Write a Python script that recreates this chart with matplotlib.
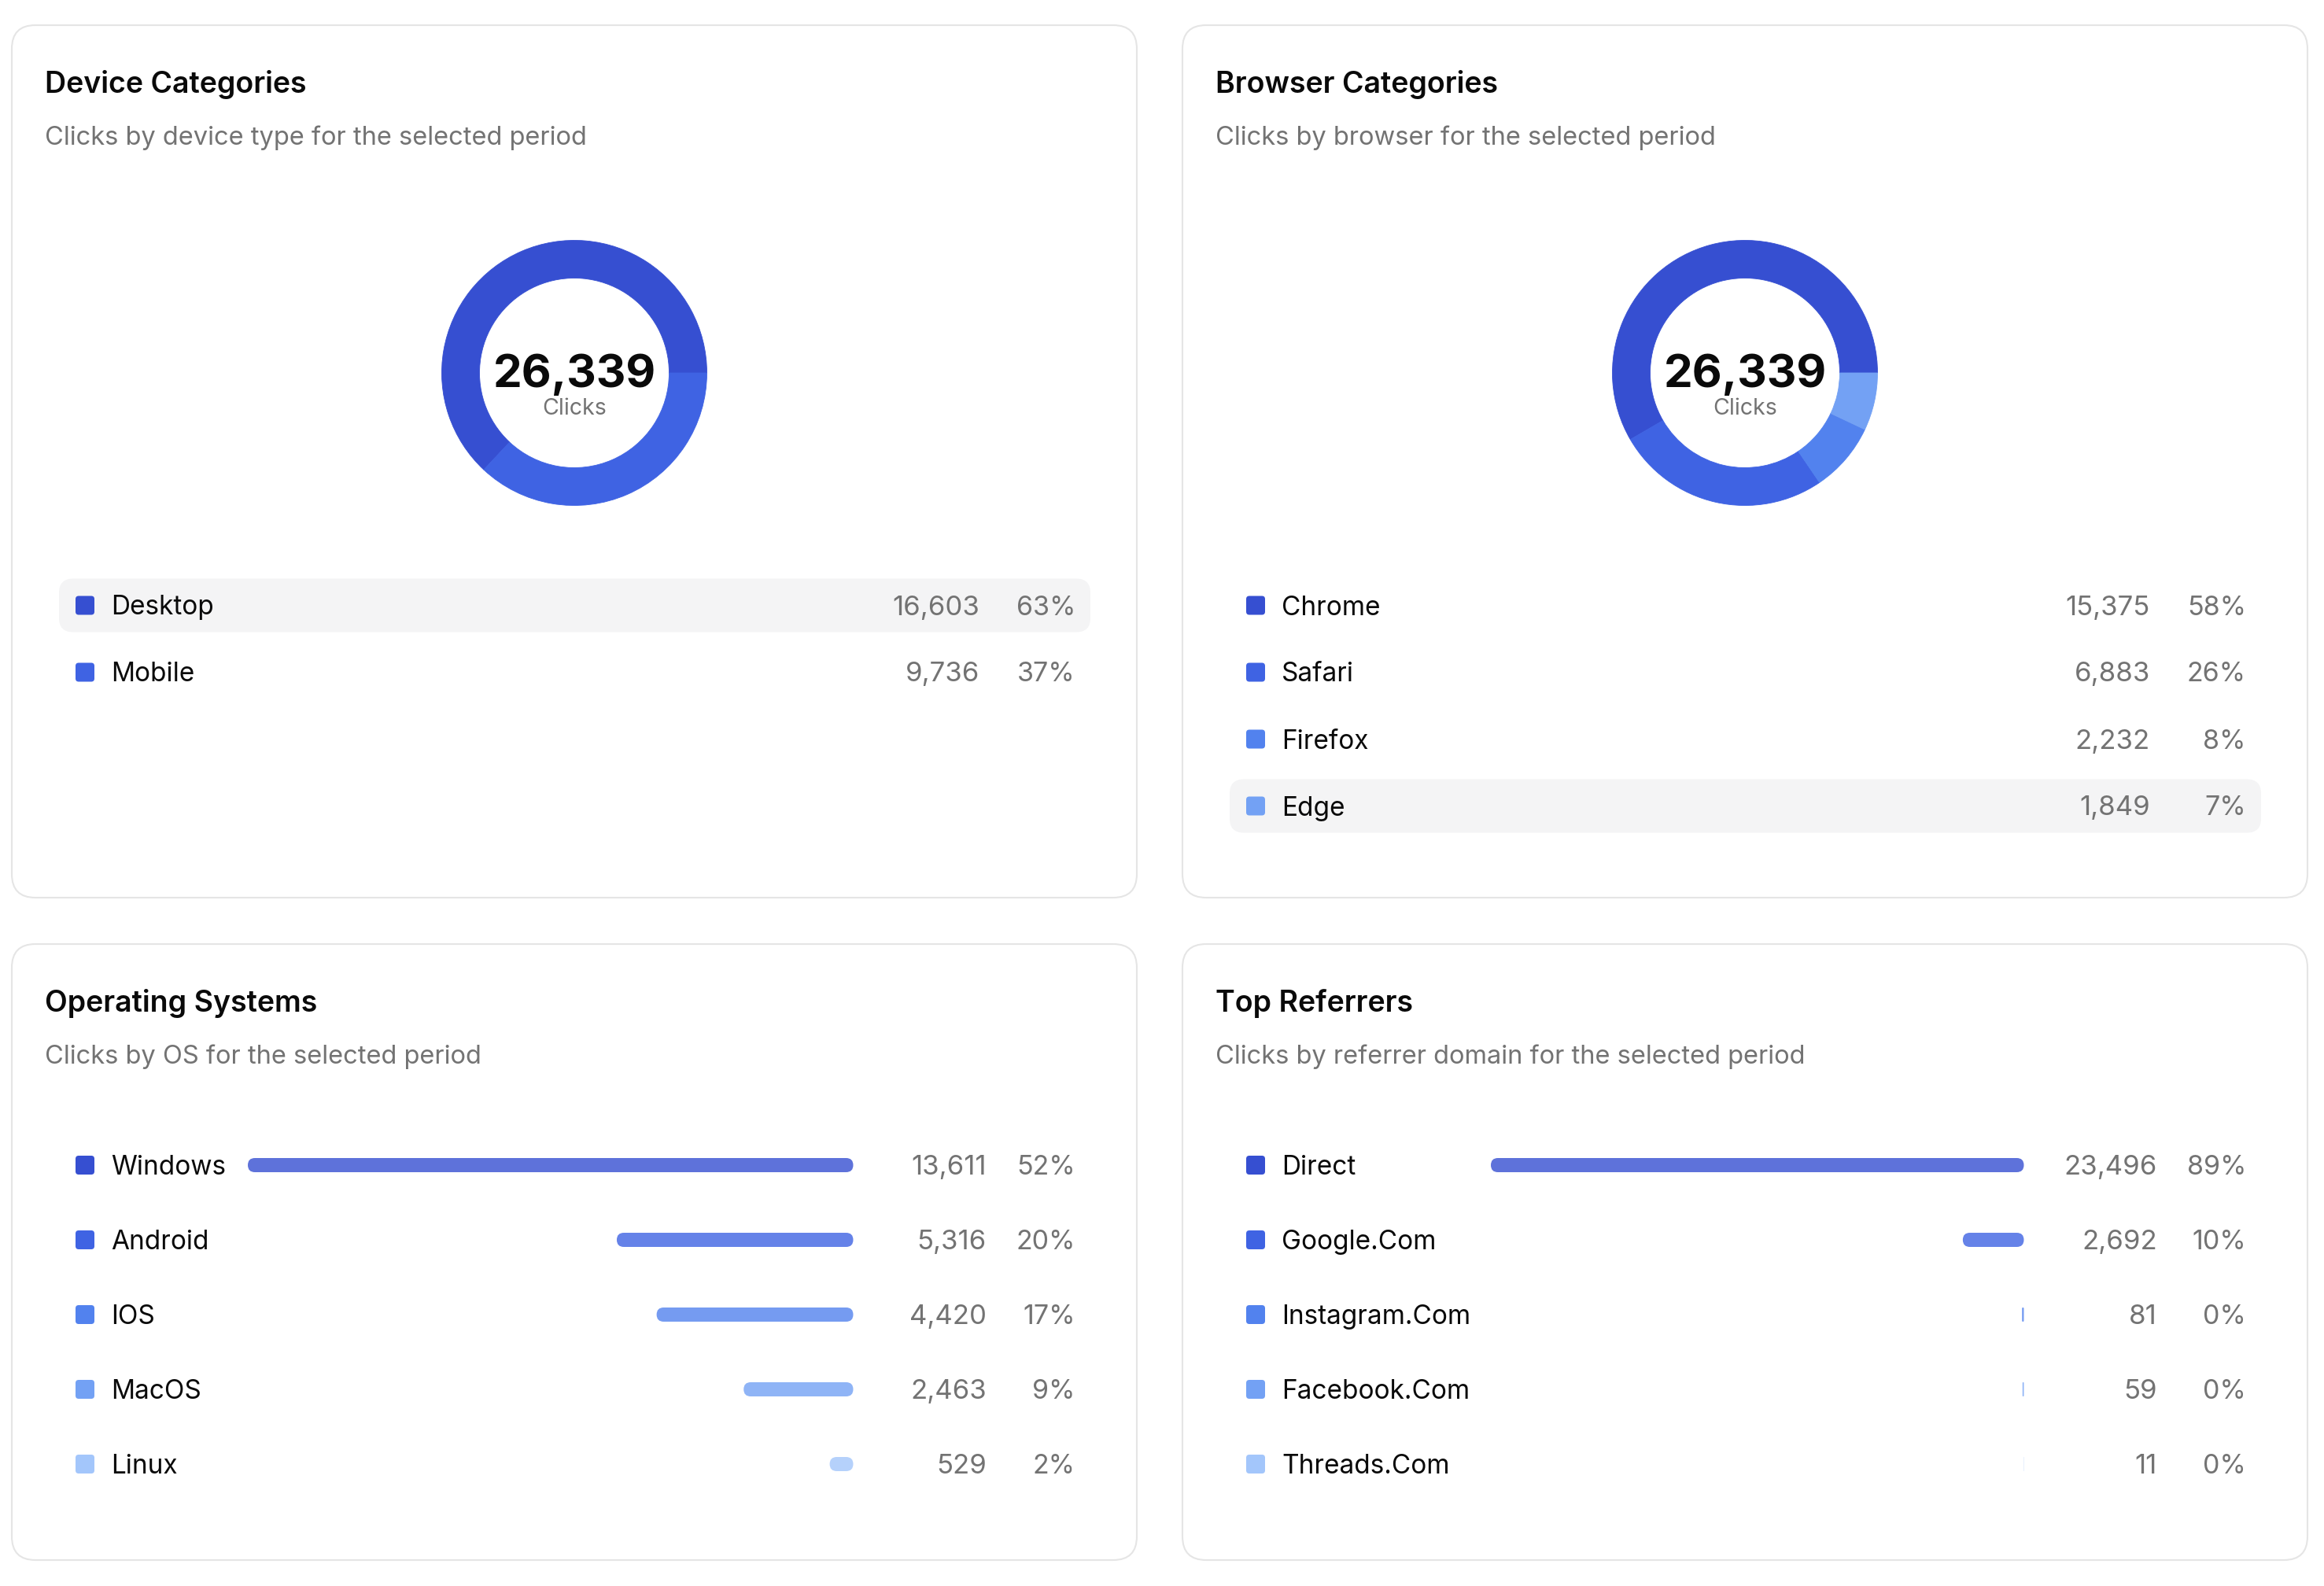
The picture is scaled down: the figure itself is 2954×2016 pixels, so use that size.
import matplotlib
matplotlib.use("Agg")
import matplotlib.pyplot as plt
from matplotlib.patches import FancyBboxPatch

plt.rcParams['font.family'] = ['Inter', 'DejaVu Sans']

# data
total_label = "Clicks"

device_labels = ['Desktop', 'Mobile']
device_values = [16603, 9736]

browser_labels = ['Chrome', 'Safari', 'Firefox', 'Edge']
browser_values = [15375, 6883, 2232, 1849]

os_labels = ['Windows', 'Android', 'IOS', 'MacOS', 'Linux']
os_values = [13611, 5316, 4420, 2463, 529]

ref_labels = ['Direct', 'Google.Com', 'Instagram.Com', 'Facebook.Com', 'Threads.Com']
ref_values = [23496, 2692, 81, 59, 11]

palette = ['#364fd1', '#3f63e3', '#5282ee', '#73a1f4', '#a3c6fb']

W, H = 2954, 2016
fig = plt.figure(figsize=(W / 100, H / 100), dpi=100)
fig.patch.set_facecolor('white')

bg = fig.add_axes([0, 0, 1, 1])
bg.set_xlim(0, W)
bg.set_ylim(H, 0)
bg.axis('off')


def px_axes(left, top, w, h):
    return fig.add_axes([left / W, 1 - (top + h) / H, w / W, h / H])


def card(left, top, w, h, title, subtitle):
    bg.add_patch(FancyBboxPatch((left, top), w, h,
                                boxstyle="round,pad=0,rounding_size=30",
                                facecolor='white', edgecolor='#e5e5e5', lw=1.5))
    bg.text(left + 42, top + 86, title, fontsize=27, fontweight='semibold',
            color='#0a0a0a', va='baseline')
    bg.text(left + 42, top + 152, subtitle, fontsize=23.5, color='#737373',
            va='baseline')


def legend_rows(left, first_y, step, labels, values, val_right, highlight=None):
    total = sum(values)
    for i, (lab, v) in enumerate(zip(labels, values)):
        y = first_y + i * step
        if i == highlight:
            bg.add_patch(FancyBboxPatch((left + 60, y - 34), 1311, 68,
                                        boxstyle="round,pad=0,rounding_size=18",
                                        facecolor='#f4f4f5', edgecolor='none'))
        bg.add_patch(FancyBboxPatch((left + 81, y - 12), 24, 24,
                                    boxstyle="round,pad=0,rounding_size=4",
                                    facecolor=palette[i], edgecolor='none'))
        base = y + 12
        bg.text(left + 126, base, lab, fontsize=24, color='#0a0a0a', va='baseline')
        bg.text(left + val_right, base, f"{v:,}", fontsize=25, color='#737373',
                ha='right', va='baseline')
        bg.text(left + 1352, base, f"{round(v / total * 100)}%", fontsize=24.5,
                color='#737373', ha='right', va='baseline')


def donut(cx, cy, values):
    r_out, r_in = 168.5, 120.5
    ax = px_axes(cx - r_out, cy - r_out, 2 * r_out, 2 * r_out)
    ax.pie(values, colors=palette[:len(values)], startangle=0, counterclock=True,
           radius=1, wedgeprops=dict(width=1 - r_in / r_out, lw=0.6,
                                     edgecolor=None))
    for w, c in zip(ax.patches, palette):
        w.set_edgecolor(c)
    ax.set_xlim(-1, 1)
    ax.set_ylim(-1, 1)
    ax.axis('off')
    bg.text(cx, cy + 18, f"{sum(values):,}", fontsize=42, fontweight='bold',
            color='#0a0a0a', ha='center', va='baseline')
    bg.text(cx, cy + 53, total_label, fontsize=20.5, color='#737373',
            ha='center', va='baseline')


def bars(left, right, first_y, step, values):
    n = len(values)
    ax = px_axes(left, first_y - step / 2, right - left, n * step)
    vmax = max(values)
    rects = ax.barh(range(n), values, height=18 / step, color=palette[:n], alpha=0.8)
    ax.set_xlim(vmax, 0)
    ax.set_ylim(n - 0.5, -0.5)
    ax.axis('off')
    px_x = (right - left) / vmax
    for r in rects:
        w_px = r.get_width() * px_x
        rad = min(9, w_px / 2)
        ax.add_patch(FancyBboxPatch((r.get_x(), r.get_y()), r.get_width(), r.get_height(),
                                    boxstyle=f"round,pad=0,rounding_size={rad / px_x}",
                                    mutation_aspect=px_x / step,
                                    facecolor=r.get_facecolor(), edgecolor='none'))
        r.remove()


# cards
c1x, c2x = 15, 1503
top1, top2 = 32, 1200
cw, ch1, ch2 = 1430, 1109, 783

card(c1x, top1, cw, ch1, 'Device Categories', 'Clicks by device type for the selected period')
card(c2x, top1, cw, ch1, 'Browser Categories', 'Clicks by browser for the selected period')
card(c1x, top2, cw, ch2, 'Operating Systems', 'Clicks by OS for the selected period')
card(c2x, top2, cw, ch2, 'Top Referrers', 'Clicks by referrer domain for the selected period')

donut(c1x + cw / 2, top1 + 442, device_values)
donut(c2x + cw / 2, top1 + 442, browser_values)

legend_rows(c1x, top1 + 737.5, 85, device_labels, device_values, 1230, highlight=0)
legend_rows(c2x, top1 + 737.5, 85, browser_labels, browser_values, 1230, highlight=3)

legend_rows(c1x, top2 + 281, 95, os_labels, os_values, 1239)
legend_rows(c2x, top2 + 281, 95, ref_labels, ref_values, 1239)

bars(c1x + 300, c1x + 1069.5, top2 + 281, 95, os_values)
bars(c2x + 392, c2x + 1069.5, top2 + 281, 95, ref_values)

fig.savefig('out.png', dpi=100, facecolor='white')
